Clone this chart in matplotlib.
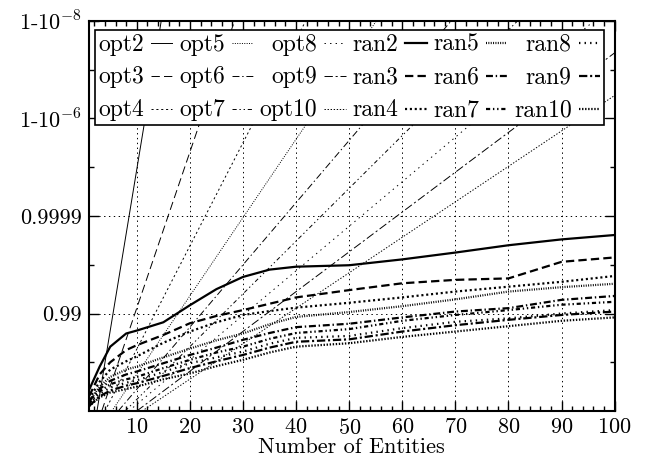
import matplotlib
matplotlib.use('Agg')
import matplotlib.pyplot as plt
from matplotlib.ticker import MultipleLocator, FixedLocator

plt.rcParams['font.family'] = 'cmr10'
plt.rcParams['mathtext.fontset'] = 'cm'
plt.rcParams['axes.formatter.use_mathtext'] = True
plt.rcParams['lines.scale_dashes'] = False

# y values are -log10(1 - reliability): 2 -> 0.99, 4 -> 0.9999, ...
y_ticks = [2, 4, 6, 8]
y_ticklabels = ['0.99', '0.9999', r'1-10$^{-6}$', r'1-10$^{-8}$']

# optimal placement: straight lines, x where the line leaves 0 and reaches 8
opt_names = ['opt2', 'opt3', 'opt4', 'opt5', 'opt6', 'opt7', 'opt8', 'opt9', 'opt10']
opt_x0 = [2.5, 3.4, 4.0, 5.3, 6.5, 7.8, 8.5, 10.0, 11.0]
opt_x8 = [14.6, 28.4, 41.8, 55.1, 69.2, 81.7, 96.1, 108.0, 121.0]

# random placement curves
ran_names = ['ran2', 'ran3', 'ran4', 'ran5', 'ran6', 'ran7', 'ran8', 'ran9', 'ran10']
ran_x = [1, 3, 5, 8, 10, 15, 20, 25, 30, 35, 40, 50, 60, 70, 80, 90, 100]
ran2 = [0.43, 0.91, 1.32, 1.59, 1.65, 1.82, 2.17, 2.50, 2.75, 2.90, 2.96, 2.99, 3.11, 3.25, 3.40, 3.52, 3.61]
ran3 = [0.30, 0.75, 1.00, 1.25, 1.35, 1.56, 1.80, 1.95, 2.07, 2.20, 2.33, 2.48, 2.62, 2.69, 2.72, 3.06, 3.15]
ran4 = [0.25, 0.60, 0.85, 1.02, 1.12, 1.40, 1.63, 1.82, 1.97, 2.05, 2.12, 2.22, 2.33, 2.45, 2.55, 2.65, 2.77]
ran5 = [0.20, 0.50, 0.70, 0.85, 0.91, 1.10, 1.28, 1.45, 1.59, 1.78, 1.93, 2.03, 2.15, 2.29, 2.45, 2.54, 2.61]
ran6 = [0.20, 0.45, 0.62, 0.75, 0.81, 0.98, 1.15, 1.30, 1.46, 1.60, 1.72, 1.79, 1.92, 2.04, 2.11, 2.28, 2.36]
ran7 = [0.15, 0.40, 0.55, 0.65, 0.70, 0.88, 1.05, 1.20, 1.32, 1.48, 1.60, 1.68, 1.85, 1.97, 2.07, 2.18, 2.24]
ran8 = [0.15, 0.35, 0.48, 0.58, 0.63, 0.80, 0.98, 1.10, 1.22, 1.38, 1.50, 1.54, 1.70, 1.83, 1.90, 2.00, 2.07]
ran9 = [0.10, 0.30, 0.42, 0.52, 0.57, 0.72, 0.88, 1.02, 1.15, 1.30, 1.42, 1.47, 1.63, 1.76, 1.87, 1.97, 2.04]
ran10 = [0.10, 0.28, 0.38, 0.45, 0.50, 0.65, 0.77, 0.92, 1.05, 1.20, 1.32, 1.39, 1.52, 1.63, 1.74, 1.85, 1.92]
ran_vals = [ran2, ran3, ran4, ran5, ran6, ran7, ran8, ran9, ran10]

dashes = [
    None,                 # solid
    (0, (6, 3)),          # dashed
    (0, (1.5, 2)),        # short dashes
    (0, (0.7, 1)),        # fine dots
    (0, (5, 2, 1, 2)),    # dash dot
    (0, (3, 2, 1, 2, 1, 2)),
    (0, (1, 3)),
    (0, (6, 2, 1.5, 2)),
    (0, (1, 1.2)),
]

fig = plt.figure(figsize=(6.45, 4.66), dpi=100)
ax = fig.add_axes([0.138, 0.118, 0.815, 0.837])

handles = []
for i in range(9):
    ls = '-' if dashes[i] is None else dashes[i]
    h, = ax.plot([opt_x0[i], opt_x8[i]], [0, 8], color='black', lw=0.7, linestyle=ls, label=opt_names[i])
    handles.append(h)
for i in range(9):
    ls = '-' if dashes[i] is None else dashes[i]
    h, = ax.plot(ran_x, ran_vals[i], color='black', lw=1.6, linestyle=ls, label=ran_names[i])
    handles.append(h)

ax.set_xlim(1, 100)
ax.set_ylim(0, 8)
ax.xaxis.set_major_locator(FixedLocator(range(10, 101, 10)))
ax.xaxis.set_minor_locator(MultipleLocator(2))
ax.yaxis.set_major_locator(FixedLocator(y_ticks))
ax.set_yticklabels(y_ticklabels)
ax.yaxis.set_minor_locator(FixedLocator([1, 3, 5, 7]))
ax.tick_params(which='both', direction='in', top=True, right=True, labelsize=16, width=1, color='black')
ax.tick_params(which='major', length=7, pad=5)
ax.tick_params(which='minor', length=3.5)
ax.grid(True, which='major', color='black', linestyle=(0, (1, 2.5)), lw=0.7)
ax.set_axisbelow(True)
for s in ax.spines.values():
    s.set_linewidth(1.5)
ax.set_xlabel('Number of Entities', fontsize=16, labelpad=0)

leg = ax.legend(handles=handles, ncol=6, loc='upper left', bbox_to_anchor=(0.011, 0.977),
                borderaxespad=0, fontsize=17, markerfirst=False, fancybox=False,
                framealpha=1, edgecolor='black', handlelength=0.9, handletextpad=0.3,
                columnspacing=0.28, labelspacing=0.45, borderpad=0.15, handleheight=0.5)
leg.get_frame().set_linewidth(1.2)

fig.savefig('out.png', dpi=100)
